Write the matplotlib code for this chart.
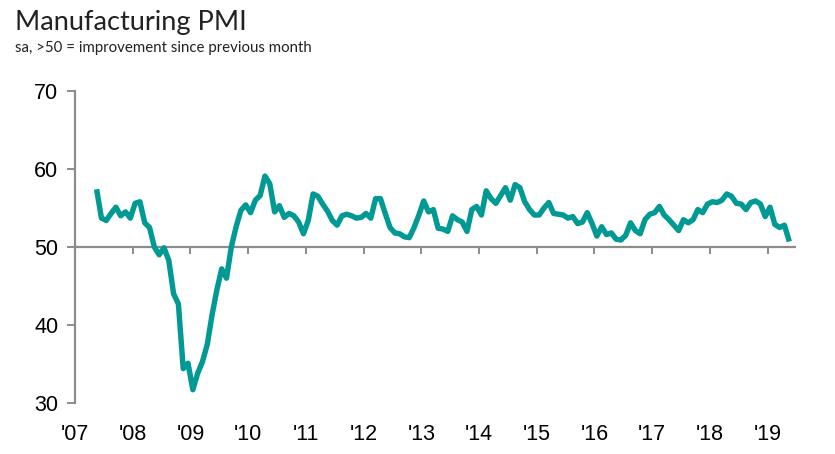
import numpy as np
import pandas as pd
import matplotlib
matplotlib.use("Agg")
import matplotlib.pyplot as plt

# Monthly PMI readings, May 2007 - May 2019
start_month = "2007-05"
pmi = [
    57.4, 53.7, 53.4, 54.3, 55.1, 54.0, 54.5, 53.7, 55.6, 55.8,
    53.1, 52.5, 50.0, 49.0, 49.9, 48.3, 44.0, 42.7, 34.4, 35.1,
    31.7, 33.8, 35.3, 37.5, 41.3, 44.5, 47.2, 46.0, 50.0, 52.6,
    54.7, 55.4, 54.4, 56.0, 56.6, 59.1, 58.1, 54.5, 55.3, 53.8,
    54.3, 54.0, 53.2, 51.7, 53.4, 56.8, 56.5, 55.5, 54.6, 53.4,
    52.8, 54.0, 54.2, 54.0, 53.7, 53.8, 54.3, 53.7, 56.2, 56.2,
    54.3, 52.5, 51.8, 51.7, 51.3, 51.2, 52.5, 54.1, 55.9, 54.5,
    54.8, 52.4, 52.3, 52.0, 54.0, 53.5, 53.2, 52.0, 54.8, 55.2,
    54.1, 57.2, 56.2, 55.6, 56.6, 57.6, 56.0, 58.0, 57.6, 55.8,
    54.8, 54.1, 54.1, 55.0, 55.7, 54.3, 54.2, 54.1, 53.7, 53.9,
    53.0, 53.2, 54.4, 53.0, 51.4, 52.6, 51.6, 51.8, 51.0, 50.9,
    51.5, 53.1, 52.1, 51.7, 53.5, 54.2, 54.4, 55.2, 54.1, 53.5,
    52.8, 52.1, 53.5, 53.1, 53.5, 54.8, 54.4, 55.5, 55.8, 55.7,
    56.0, 56.8, 56.5, 55.6, 55.5, 54.8, 55.7, 55.9, 55.5, 53.9,
    55.1, 52.9, 52.5, 52.8, 50.7,
]
years = list(range(2007, 2020))
year_labels = ["'" + str(y)[2:] for y in years]
y_ticks = [30, 40, 50, 60, 70]

line_color = "#009993"
axis_color = "#8c8c8c"

dates = pd.date_range(start_month, periods=len(pmi), freq="MS")
x = dates.year + (dates.month - 0.5) / 12.0

fig = plt.figure(figsize=(8.35, 4.54), dpi=100)
ax = fig.add_axes([0.0898, 0.1123, 0.862, 0.6873])

ax.plot(x, pmi, color=line_color, lw=3.9, solid_joinstyle="round",
        solid_capstyle="butt", zorder=3)

ax.set_xlim(2007, 2019.47)
ax.set_ylim(30, 70)

# 50 line acts as the x axis (ticks hang from it)
for s in ["top", "right"]:
    ax.spines[s].set_visible(False)
ax.spines["bottom"].set_position(("data", 50))
ax.spines["bottom"].set_color(axis_color)
ax.spines["bottom"].set_linewidth(1.6)
ax.spines["left"].set_color(axis_color)
ax.spines["left"].set_linewidth(1.6)

ax.set_xticks(years[1:])
ax.tick_params(axis="x", direction="out", length=5, width=1.4,
               color=axis_color, labelbottom=False)
ax.set_yticks(y_ticks)
ax.tick_params(axis="y", direction="out", length=6, width=1.4,
               color=axis_color, labelsize=15.5, pad=6)
for lab in ax.get_yticklabels():
    lab.set_family("Liberation Sans")

# year labels along the bottom
sec = ax.secondary_xaxis("bottom")
sec.set_xticks(years)
sec.set_xticklabels(year_labels, family="Liberation Sans", fontsize=15.5)
sec.tick_params(length=0, pad=15)
sec.spines["bottom"].set_visible(False)

fig.text(0.018, 0.935, "Manufacturing PMI", family="Lato", fontsize=19.5,
         color="#222222", va="baseline")
fig.text(0.018, 0.885, "sa, >50 = improvement since previous month",
         family="Lato", fontsize=10.8, color="#222222", va="baseline")

fig.savefig("out.png", dpi=100)
